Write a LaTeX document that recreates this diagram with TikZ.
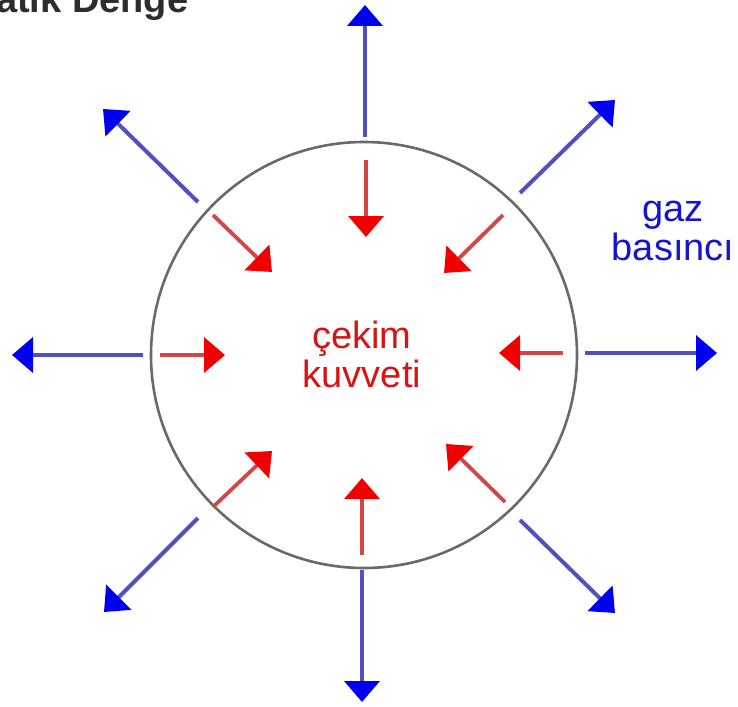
\documentclass[tikz,border=0pt]{standalone}
\usepackage{fontspec}
\setmainfont{Liberation Sans}
\usetikzlibrary{arrows.meta}
\definecolor{bluel}{RGB}{80,80,195}
\definecolor{redl}{RGB}{210,70,70}
\definecolor{bluetip}{RGB}{0,0,240}
\definecolor{redtip}{RGB}{240,0,0}
\definecolor{ring}{RGB}{105,105,105}
\definecolor{titlegray}{RGB}{45,45,45}
\definecolor{gazblue}{RGB}{20,20,210}
\definecolor{cekimred}{RGB}{215,20,20}
\tikzset{
  outarrow/.style={draw=bluel, line width=4pt, -{Triangle[length=21pt,width=35pt,color=bluetip]}},
  inarrow/.style={draw=redl, line width=3.8pt, -{Triangle[length=21pt,width=35pt,color=redtip]}},
  ringstyle/.style={circle, draw=ring, line width=2.6pt, minimum size=426pt, inner sep=0pt},
  lbl/.style={align=center, font=\fontsize{38pt}{39pt}\selectfont}
}
\begin{document}
\begin{tikzpicture}[x=1pt,y=-1pt]
\useasboundingbox (0,0) rectangle (738,706);
\begin{scope}
\clip (0,0) rectangle (738,706);
\node[anchor=base west, text=titlegray, inner sep=0pt, font=\fontsize{38pt}{38pt}\selectfont\bfseries] (title) at (-4,13) {atik Denge};
\end{scope}
\node[ringstyle] (c) at (364,355) {};
% outward (blue) arrows: start, tip
\coordinate (bN0) at (365,137);  \coordinate (bN1) at (365,5);
\coordinate (bS0) at (362,570);  \coordinate (bS1) at (362,702);
\coordinate (bW0) at (143,355);  \coordinate (bW1) at (12,355);
\coordinate (bE0) at (585,353);  \coordinate (bE1) at (717,353);
\coordinate (bNW0) at (198,202); \coordinate (bNW1) at (103,109);
\coordinate (bNE0) at (520,193); \coordinate (bNE1) at (615,100);
\coordinate (bSW0) at (198,518); \coordinate (bSW1) at (104,612);
\coordinate (bSE0) at (520,520); \coordinate (bSE1) at (615,613);
% inward (red) arrows
\coordinate (rN0) at (366,160);  \coordinate (rN1) at (366,237);
\coordinate (rS0) at (362,555);  \coordinate (rS1) at (362,478);
\coordinate (rW0) at (160,355);  \coordinate (rW1) at (225,355);
\coordinate (rE0) at (563,353);  \coordinate (rE1) at (499,353);
\coordinate (rNW0) at (213,215); \coordinate (rNW1) at (272,272);
\coordinate (rNE0) at (503,215); \coordinate (rNE1) at (444,273);
\coordinate (rSW0) at (213,507); \coordinate (rSW1) at (272,451);
\coordinate (rSE0) at (505,502); \coordinate (rSE1) at (446,444);
\foreach \d in {N,S,W,E,NW,NE,SW,SE}{
  \draw[outarrow] (b\d0) -- (b\d1);
  \draw[inarrow] (r\d0) -- (r\d1);
}
\node[lbl, text=cekimred] (cekim) at (362,354) {çekim\\kuvveti};
\node[lbl, text=gazblue] (gaz) at (673,231) {gaz\\basıncı};
\end{tikzpicture}
\end{document}
